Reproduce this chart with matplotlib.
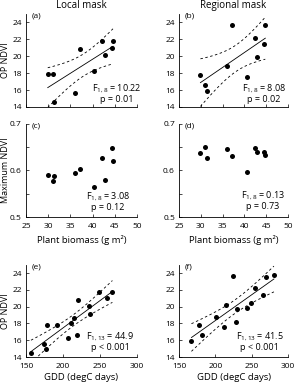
import numpy as np
import matplotlib
matplotlib.use("Agg")
import matplotlib.pyplot as plt

plt.rcParams["font.family"] = ["Open Sans", "DejaVu Sans"]
plt.rcParams["axes.linewidth"] = 0.6

# plant biomass (g m-2), same plots for local / regional mask
biomass_local = [29.9, 31.0, 31.4, 36.0, 37.1, 40.3, 42.2, 42.7, 44.4, 44.6]
op_ndvi_local = [17.9, 17.9, 14.6, 15.6, 20.8, 18.2, 21.8, 20.1, 21.0, 21.8]
max_ndvi_local = [0.591, 0.578, 0.589, 0.595, 0.604, 0.564, 0.626, 0.580, 0.649, 0.621]

biomass_regional = [29.9, 31.0, 31.5, 36.0, 37.2, 40.5, 42.4, 42.8, 44.5, 44.8]
op_ndvi_regional = [17.8, 16.6, 15.9, 18.8, 23.7, 17.6, 22.2, 19.9, 21.4, 23.7]
max_ndvi_regional = [0.638, 0.651, 0.627, 0.646, 0.631, 0.596, 0.648, 0.640, 0.640, 0.633]

# growing degree days
gdd_local = [156.7, 174.7, 176.9, 177.8, 192.2, 207.0, 210.6, 214.7, 220.5, 219.6,
             235.3, 237.0, 248.8, 259.6, 266.8]
op_gdd_local = [14.5, 15.5, 15.0, 17.8, 17.8, 16.3, 18.1, 18.7, 20.8, 16.6,
                20.1, 19.1, 21.8, 21.0, 21.8]
gdd_regional = [167.0, 177.2, 181.8, 200.2, 211.7, 215.3, 228.2, 230.1, 224.6, 243.0,
                248.5, 254.5, 266.0, 269.6, 280.7]
op_gdd_regional = [15.9, 17.8, 16.6, 18.8, 17.6, 20.2, 18.2, 19.7, 23.7, 19.9,
                   20.4, 22.2, 21.4, 23.5, 23.8]

stats = {
    "a": ("F$\\mathregular{_{1,8}}$ = 10.22", "p = 0.01"),
    "b": ("F$\\mathregular{_{1,8}}$ = 8.08", "p = 0.02"),
    "c": ("F$\\mathregular{_{1,8}}$ = 3.08", "p = 0.12"),
    "d": ("F$\\mathregular{_{1,8}}$ = 0.13", "p = 0.73"),
    "e": ("F$\\mathregular{_{1,13}}$ = 44.9", "p < 0.001"),
    "f": ("F$\\mathregular{_{1,13}}$ = 41.5", "p < 0.001"),
}
stat_pos = {"a": (0.82, 0.20), "b": (0.78, 0.20), "c": (0.74, 0.22),
            "d": (0.77, 0.23), "e": (0.76, 0.22), "f": (0.74, 0.22)}
t_crit = {8: 2.306, 13: 2.160}


def fit_lines(ax, x, y):
    x = np.asarray(x)
    y = np.asarray(y)
    n = len(x)
    b, a = np.polyfit(x, y, 1)
    xs = np.linspace(x.min(), x.max(), 100)
    yhat = a + b * xs
    resid = y - (a + b * x)
    s = np.sqrt(np.sum(resid ** 2) / (n - 2))
    sxx = np.sum((x - x.mean()) ** 2)
    half = t_crit[n - 2] * s * np.sqrt(1.0 / n + (xs - x.mean()) ** 2 / sxx)
    ax.plot(xs, yhat, color="k", lw=0.6)
    ax.plot(xs, yhat + half, color="k", lw=0.6, ls=(0, (3, 3)))
    ax.plot(xs, yhat - half, color="k", lw=0.6, ls=(0, (3, 3)))


def style(ax, label):
    ax.spines["top"].set_visible(False)
    ax.spines["right"].set_visible(False)
    ax.tick_params(direction="in", length=2.5, width=0.5, labelsize=6, pad=3)
    ax.tick_params(axis="x", pad=4)
    ax.text(0.055, 0.975, "(" + label + ")", transform=ax.transAxes,
            fontsize=6, ha="left", va="center")
    px, py = stat_pos[label]
    ax.text(px, py, stats[label][0], transform=ax.transAxes,
            fontsize=6.5, ha="center", va="center")
    ax.text(px, py - 0.12, stats[label][1], transform=ax.transAxes,
            fontsize=6.5, ha="center", va="center")


fig = plt.figure(figsize=(2.99, 3.86), dpi=100)
lx, lw_ = 0.087, 0.371
rx, rw = 0.599, 0.364
rows = [0.7228, 0.4378, 0.0751]
h = 0.241

ax_a = fig.add_axes([lx, rows[0], lw_, h])
ax_b = fig.add_axes([rx, rows[0], rw, h])
ax_c = fig.add_axes([lx, rows[1], lw_, h])
ax_d = fig.add_axes([rx, rows[1], rw, h])
ax_e = fig.add_axes([lx, rows[2], lw_, 0.239])
ax_f = fig.add_axes([rx, rows[2], rw, 0.239])

# top row: OP NDVI vs biomass
for ax, x, y, lab in [(ax_a, biomass_local, op_ndvi_local, "a"),
                      (ax_b, biomass_regional, op_ndvi_regional, "b")]:
    fit_lines(ax, x, y)
    ax.plot(x, y, "o", color="k", ms=3.6, mec="none")
    ax.set_xlim(25, 50)
    ax.set_ylim(14, 25)
    ax.set_xticks([25, 30, 35, 40, 45, 50])
    ax.set_xticklabels([])
    ax.set_yticks([14, 16, 18, 20, 22, 24])
    style(ax, lab)

ax_a.set_title("Local mask", fontsize=7, pad=4)
ax_b.set_title("Regional mask", fontsize=7, pad=4)
ax_a.set_ylabel("OP NDVI", fontsize=6.5)
ax_a.yaxis.set_label_coords(-0.145, 0.5)

# middle row: maximum NDVI vs biomass
for ax, x, y, lab in [(ax_c, biomass_local, max_ndvi_local, "c"),
                      (ax_d, biomass_regional, max_ndvi_regional, "d")]:
    ax.plot(x, y, "o", color="k", ms=3.6, mec="none")
    ax.set_xlim(25, 50)
    ax.set_ylim(0.5, 0.7)
    ax.set_xticks([25, 30, 35, 40, 45, 50])
    ax.set_yticks([0.5, 0.55, 0.6, 0.65, 0.7])
    ax.set_yticklabels(["0.5", "", "0.6", "", "0.7"])
    ax.set_xlabel("Plant biomass (g m²)", fontsize=6.8)
    ax.xaxis.set_label_coords(0.5, -0.19)
    style(ax, lab)

ax_c.set_ylabel("Maximum NDVI", fontsize=6.5)
ax_c.yaxis.set_label_coords(-0.145, 0.5)

# bottom row: OP NDVI vs GDD
for ax, x, y, lab in [(ax_e, gdd_local, op_gdd_local, "e"),
                      (ax_f, gdd_regional, op_gdd_regional, "f")]:
    fit_lines(ax, x, y)
    ax.plot(x, y, "o", color="k", ms=3.6, mec="none")
    ax.set_xlim(150, 300)
    ax.set_ylim(14, 25)
    ax.set_xticks([150, 200, 250, 300])
    ax.set_yticks([14, 16, 18, 20, 22, 24])
    ax.set_xlabel("GDD (degC days)", fontsize=6.8)
    ax.xaxis.set_label_coords(0.5, -0.17)
    style(ax, lab)

ax_e.set_ylabel("OP NDVI", fontsize=6.5)
ax_e.yaxis.set_label_coords(-0.145, 0.5)

fig.savefig("out.png", dpi=100)
